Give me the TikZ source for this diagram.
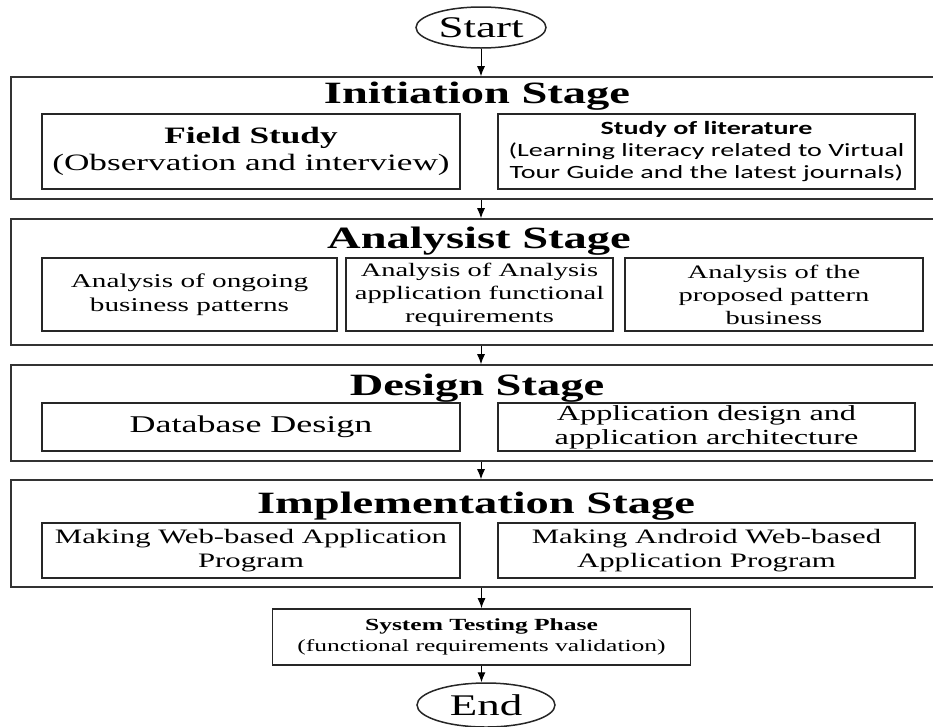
\documentclass[tikz,border=0pt]{standalone}
\usepackage{fontspec}
\setmainfont{Liberation Serif}[FakeStretch=1.5]
\newfontfamily\calib{Carlito}[FakeStretch=1.5]
\usetikzlibrary{shapes.geometric,arrows.meta}
\newcommand{\fsz}[2]{\fontsize{#1}{#2}\selectfont}

\begin{document}
\begin{tikzpicture}[x=1pt,y=-1pt,
  stage/.style={draw=black!80,line width=1.6pt,minimum width=925pt},
  head/.style={anchor=base,font=\bfseries\fsz{31}{36}},
  sub/.style={draw=black!85,line width=1.8pt,align=center,inner sep=2pt},
  term/.style={draw=black!85,ellipse,line width=1.5pt,inner sep=0pt,font=\fsz{30}{34}},
  link/.style={-{Latex[length=10pt,width=8pt]},line width=1pt}]
\useasboundingbox (0,0) rectangle (933,726);

\node[term,minimum width=130pt,minimum height=41pt] (start) at (481,27.5) {Start};

% stage frames
\node[stage,minimum height=122pt] (init) at (473.5,138) {};
\node[stage,minimum height=126pt] (ana) at (473.5,282) {};
\node[stage,minimum height=96pt] (des) at (473.5,413) {};
\node[stage,minimum height=107pt] (imp) at (473.5,533.5) {};

\node[head] (tinit) at (477,103) {Initiation Stage};
\node[head] (tana) at (479,248) {Analysist Stage};
\node[head] (tdes) at (477,395) {Design Stage};
\node[head] (timp) at (476,513) {Implementation Stage};

% initiation
\node[sub,minimum width=418pt,minimum height=75pt,font=\fsz{23.5}{27}] (field) at (251,151.5)
  {\textbf{Field Study}\\(Observation and interview)};
\node[sub,minimum width=417pt,minimum height=75pt,font=\calib\fsz{18.7}{22}] (lit) at (706.5,151.5)
  {\textbf{Study of literature}\\(Learning literacy related to Virtual\\Tour Guide and the latest journals)};

% analysist
\node[sub,minimum width=295pt,minimum height=73pt,font=\fsz{19.5}{24}] (ana1) at (189.5,294.5)
  {Analysis of ongoing\\business patterns};
\node[sub,minimum width=267pt,minimum height=73pt,font=\fsz{19}{23}] (ana2) at (479.5,294.5)
  {Analysis of Analysis\\application functional\\requirements};
\node[sub,minimum width=298pt,minimum height=73pt,font=\fsz{19}{23}] (ana3) at (774,294.5)
  {Analysis of the\\proposed pattern\\business};

% design
\node[sub,minimum width=418pt,minimum height=48pt,font=\fsz{24}{27}] (db) at (251,427) {Database Design};
\node[sub,minimum width=417pt,minimum height=48pt,font=\fsz{21.5}{24}] (appd) at (706.5,427)
  {Application design and\\application architecture};

% implementation
\node[sub,minimum width=418pt,minimum height=55pt,font=\fsz{20.5}{24}] (web) at (251,550.5)
  {Making Web-based Application\\Program};
\node[sub,minimum width=417pt,minimum height=55pt,font=\fsz{20.5}{24}] (andr) at (706.5,550.5)
  {Making Android Web-based\\Application Program};

\node[sub,minimum width=418pt,minimum height=56pt,font=\fsz{17}{21}] (test) at (481.5,637)
  {\textbf{System Testing Phase}\\(functional requirements validation)};

\node[term,minimum width=138pt,minimum height=44pt] (end) at (486,705) {End};

\draw[link] (start) -- (start |- init.north);
\draw[link] (init.south -| start) -- (ana.north -| start);
\draw[link] (ana.south -| start) -- (des.north -| start);
\draw[link] (des.south -| start) -- (imp.north -| start);
\draw[link] (imp.south -| test) -- (test);
\draw[link] (test.south) -- (test.south |- end.north);
\end{tikzpicture}
\end{document}
